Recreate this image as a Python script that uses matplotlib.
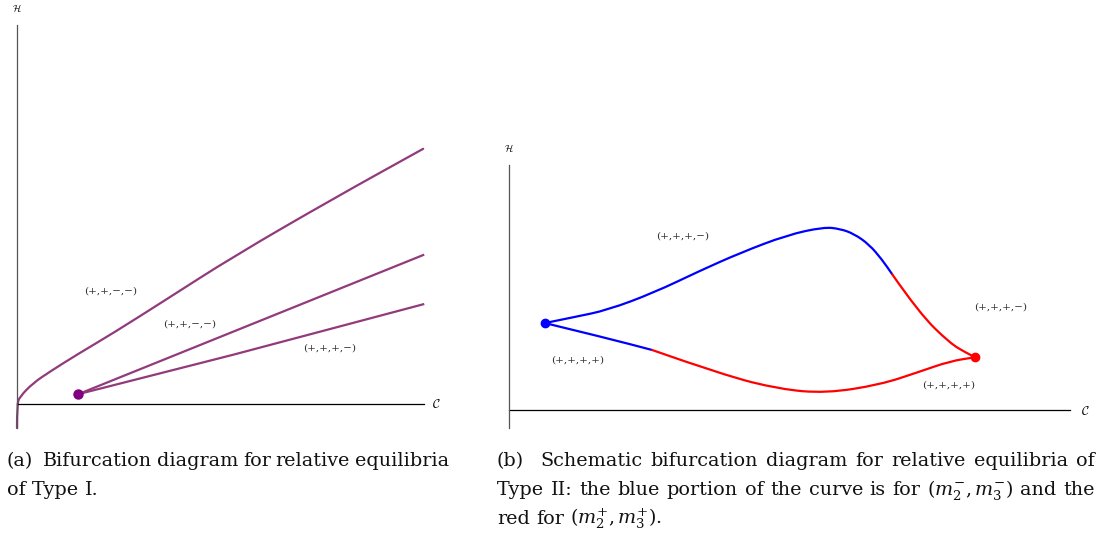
# Third-party imports
import matplotlib.pyplot as plt
from matplotlib.path import Path
from matplotlib.patches import PathPatch

# Type I branches (C, H)
upper_c = [0.0, 0.0, 0.07, 0.39, 0.80, 1.50, 2.36, 3.67, 5.31, 7.76, 9.98]
upper_h = [-0.59, 0.0, 0.18, 0.51, 0.79, 1.23, 1.74, 2.57, 3.62, 5.04, 6.27]
middle_c = [1.50, 9.98]
middle_h = [0.24, 3.66]
lower_c = [1.50, 5.31, 9.98]
lower_h = [0.24, 1.21, 2.45]
cusp_a = (1.50, 0.24)
labels_a = ["(+,+,−,−)", "(+,+,−,−)", "(+,+,+,−)"]
labels_a_c = [2.29, 4.25, 7.69]
labels_a_h = [2.78, 1.97, 1.38]

# Type II branches
top_blue_c = [0.64, 1.18, 1.75, 2.58, 3.40, 4.12, 4.96, 5.61, 5.90, 6.15, 6.42, 6.65, 6.83]
top_blue_h = [1.55, 1.66, 1.78, 2.09, 2.48, 2.80, 3.12, 3.26, 3.23, 3.14, 2.95, 2.68, 2.42]
top_red_c = [6.83, 7.31, 7.86, 8.15, 8.31]
top_red_h = [2.42, 1.73, 1.19, 1.02, 0.94]
bot_blue_c = [0.64, 1.75, 2.55]
bot_blue_h = [1.55, 1.28, 1.07]
bot_red_c = [2.55, 3.83, 4.83, 5.65, 6.61, 7.31, 7.86, 8.31]
bot_red_h = [1.07, 0.62, 0.37, 0.30, 0.45, 0.68, 0.87, 0.94]
cusp_blue = (0.64, 1.55)
cusp_red = (8.31, 0.94)
labels_b = ["(+,+,+,−)", "(+,+,+,−)", "(+,+,+,+)", "(+,+,+,+)"]
labels_b_c = [3.10, 8.77, 1.23, 7.84]
labels_b_h = [3.10, 1.84, 0.89, 0.45]

caption_a = ["(a)  Bifurcation diagram for relative equilibria", "of Type I."]
caption_b = [
    "(b)  Schematic bifurcation diagram for relative equilibria of",
    "Type II: the blue portion of the curve is for $(m_2^{-},m_3^{-})$ and the",
    "red for $(m_2^{+},m_3^{+})$.",
]

W, H = 1102, 537
purple = "#913a7c"


def smooth(ax, xs, ys, color, lw=1.6):
    verts = [(xs[0], ys[0])]
    codes = [Path.MOVETO]
    for i in range(1, len(xs) - 1):
        mx = (xs[i] + xs[i + 1]) / 2
        my = (ys[i] + ys[i + 1]) / 2
        verts += [(xs[i], ys[i]), (mx, my)]
        codes += [Path.CURVE3, Path.CURVE3]
    verts.append((xs[-1], ys[-1]))
    codes.append(Path.LINETO)
    ax.add_patch(PathPatch(Path(verts, codes), fill=False, ec=color, lw=lw,
                           capstyle="round", joinstyle="round"))


def make_axes(px0, py0, px1, py1, ox, oy, scale):
    ax = fig.add_axes([px0 / W, 1 - py1 / H, (px1 - px0) / W, (py1 - py0) / H])
    ax.set_xlim((px0 - ox) / scale, (px1 - ox) / scale)
    ax.set_ylim((oy - py1) / scale, (oy - py0) / scale)
    ax.axis("off")
    return ax


fig = plt.figure(figsize=(W / 100, H / 100), dpi=100)

# Panel (a)
ax1 = make_axes(0, 0, 450, 440, 17, 404, 40.7)
ax1.plot([0, 10], [0, 0], color="black", lw=0.9)
ax1.plot([0, 0], [-0.59, 9.31], color="#555555", lw=0.9)
smooth(ax1, upper_c, upper_h, purple)
ax1.plot(middle_c, middle_h, color=purple, lw=1.6)
ax1.plot(lower_c, lower_h, color=purple, lw=1.6)
ax1.plot(*cusp_a, "o", color="#800080", ms=6.5)
for s, c, h in zip(labels_a, labels_a_c, labels_a_h):
    ax1.text(c, h, s, fontsize=7.5, color="#333333", ha="center", va="center",
             family="DejaVu Serif")
ax1.text(0, 9.73, r"$\mathcal{H}$", fontsize=7, ha="center", va="center", math_fontfamily="cm")
ax1.text(10.30, -0.02, r"$\mathcal{C}$", fontsize=9, ha="center", va="center", math_fontfamily="cm")

# Panel (b)
ax2 = make_axes(470, 130, 1102, 440, 509, 410, 56.1)
ax2.plot([0, 10], [0, 0], color="black", lw=0.9)
ax2.plot([0, 0], [-0.32, 4.37], color="#555555", lw=0.9)
smooth(ax2, top_blue_c, top_blue_h, "blue")
smooth(ax2, top_red_c, top_red_h, "red")
smooth(ax2, bot_blue_c, bot_blue_h, "blue")
smooth(ax2, bot_red_c, bot_red_h, "red")
ax2.plot(*cusp_blue, "o", color="blue", ms=6)
ax2.plot(*cusp_red, "o", color="red", ms=6)
for s, c, h in zip(labels_b, labels_b_c, labels_b_h):
    ax2.text(c, h, s, fontsize=7.5, color="#333333", ha="center", va="center",
             family="DejaVu Serif")
ax2.text(0, 4.67, r"$\mathcal{H}$", fontsize=7, ha="center", va="center", math_fontfamily="cm")
ax2.text(10.27, -0.02, r"$\mathcal{C}$", fontsize=9, ha="center", va="center", math_fontfamily="cm")

# Captions (justified lines)
renderer = fig.canvas.get_renderer()
cap_kw = dict(fontsize=13.8, family="DejaVu Serif", va="baseline", color="#111111",
              math_fontfamily="dejavuserif")


def text_width(s):
    t = fig.text(0, 0, s, **cap_kw)
    w = t.get_window_extent(renderer).width
    t.remove()
    return w


space = text_width("a a") - text_width("aa")


def put_line(line, x0, x1, y, justify):
    # a double space after "(a)"/"(b)" counts as two gaps
    parts = line.split(" ")
    words, weights = [], []
    for p in parts:
        if p:
            words.append(p)
            weights.append(1)
        elif weights:
            weights[-1] += 1
    weights = weights[:-1]
    texts = [fig.text(0, 1 - y / H, w, **cap_kw) for w in words]
    widths = [t.get_window_extent(renderer).width for t in texts]
    gap = space
    if justify and len(words) > 1:
        gap = (x1 - x0 - sum(widths)) / sum(weights)
    x = x0
    for i, (t, w) in enumerate(zip(texts, widths)):
        t.set_x(x / W)
        if i < len(weights):
            x += w + gap * weights[i]


put_line(caption_a[0], 7, 449, 466, True)
put_line(caption_a[1], 7, 449, 495, False)
put_line(caption_b[0], 497, 1095, 466, True)
put_line(caption_b[1], 497, 1095, 495, True)
put_line(caption_b[2], 497, 1095, 524, False)

fig.savefig("out.png", dpi=100)
